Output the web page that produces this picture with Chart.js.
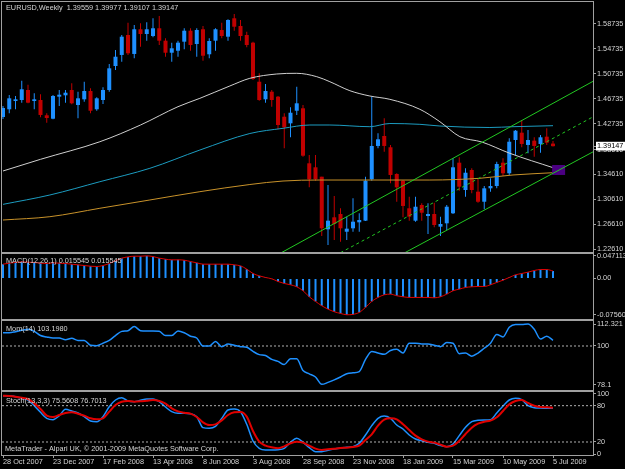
<!DOCTYPE html>
<html>
<head>
<meta charset="utf-8">
<title>EURUSD Weekly</title>
<script src="https://cdn.jsdelivr.net/npm/chart.js@4.4.1/dist/chart.umd.min.js"></script>
<style>
  html, body { margin: 0; padding: 0; background: #000; overflow: hidden; }
  #wrap { position: relative; width: 625px; height: 469px; }
  #wrap canvas { position: absolute; left: 0; top: 0; }
</style>
</head>
<body>
<div id="wrap">
  <canvas id="price" width="625" height="469"></canvas>
  <canvas id="macd" width="625" height="469"></canvas>
  <canvas id="mom" width="625" height="469"></canvas>
  <canvas id="stoch" width="625" height="469"></canvas>
</div>
<script>
// weekly bars, 28 Oct 2007 .. 5 Jul 2009 (89 bars)
const opens = [
  1.4382, 1.4506, 1.4639, 1.4655, 1.4815, 1.4639, 1.4655, 1.4410, 1.4355, 1.4708,
  1.4730, 1.4815, 1.4575, 1.4666, 1.4799, 1.4506, 1.4655, 1.4815, 1.5200, 1.5377,
  1.5697, 1.5393, 1.5789, 1.5713, 1.5681, 1.5805, 1.5606, 1.5413, 1.5445, 1.5590,
  1.5766, 1.5553, 1.5789, 1.5388, 1.5606, 1.5777, 1.5670, 1.5965, 1.5841, 1.5697,
  1.5574, 1.4948, 1.4666, 1.4788, 1.4708, 1.4387, 1.4281, 1.4483, 1.4522, 1.3640,
  1.3576, 1.3425, 1.2582, 1.2774, 1.2827, 1.2543, 1.2598, 1.2694, 1.2720, 1.3384,
  1.3918, 1.4078, 1.3897, 1.3469, 1.3361, 1.2919, 1.2720, 1.2972, 1.2795, 1.2827,
  1.2624, 1.2678, 1.2839, 1.3650, 1.3212, 1.3533, 1.3185, 1.3024, 1.3239, 1.3276,
  1.3650, 1.3480, 1.4014, 1.4131, 1.3934, 1.4003, 1.3950, 1.4067, 1.39559
];
const highs = [
  1.4559, 1.4735, 1.4719, 1.4964, 1.4900, 1.4762, 1.4746, 1.4442, 1.4735, 1.4815,
  1.4815, 1.4923, 1.4788, 1.4948, 1.4843, 1.4698, 1.4859, 1.5232, 1.5457, 1.5697,
  1.5894, 1.5857, 1.5885, 1.5901, 1.5965, 1.6002, 1.5644, 1.5574, 1.5606, 1.5805,
  1.5805, 1.5805, 1.5841, 1.5644, 1.5805, 1.5894, 1.5949, 1.6034, 1.5938, 1.5750,
  1.5590, 1.5083, 1.4912, 1.4815, 1.4719, 1.4442, 1.4538, 1.4868, 1.4575, 1.3773,
  1.3773, 1.3425, 1.3292, 1.3116, 1.2919, 1.2784, 1.3079, 1.2839, 1.3425, 1.4708,
  1.4121, 1.4362, 1.3934, 1.3480, 1.3372, 1.3105, 1.3105, 1.2999, 1.2999, 1.3009,
  1.2784, 1.2972, 1.3720, 1.3736, 1.3560, 1.3560, 1.3400, 1.3276, 1.3400, 1.3666,
  1.3720, 1.4041, 1.4174, 1.4334, 1.4174, 1.4057, 1.4094, 1.4201, 1.39977
];
const lows = [
  1.4350, 1.4442, 1.4506, 1.4612, 1.4602, 1.4506, 1.4378, 1.4291, 1.4346, 1.4559,
  1.4612, 1.4586, 1.4362, 1.4628, 1.4442, 1.4483, 1.4591, 1.4788, 1.5136, 1.5269,
  1.5377, 1.5324, 1.5510, 1.5606, 1.5660, 1.5537, 1.5349, 1.5269, 1.5349, 1.5468,
  1.5445, 1.5349, 1.5285, 1.5324, 1.5445, 1.5644, 1.5606, 1.5766, 1.5606, 1.5500,
  1.4976, 1.4644, 1.4612, 1.4548, 1.4185, 1.3881, 1.4057, 1.4415, 1.3746, 1.3255,
  1.3361, 1.2475, 1.2330, 1.2410, 1.2383, 1.2410, 1.2543, 1.2543, 1.2715, 1.3361,
  1.3881, 1.3826, 1.3320, 1.3024, 1.2774, 1.2720, 1.2704, 1.2720, 1.2507, 1.2614,
  1.2475, 1.2571, 1.2827, 1.3201, 1.3105, 1.3159, 1.3009, 1.2903, 1.3185, 1.3239,
  1.3437, 1.3453, 1.3773, 1.3897, 1.3800, 1.3746, 1.3810, 1.3934, 1.39107
];
const closes = [
  1.4527, 1.4682, 1.4666, 1.4827, 1.4612, 1.4666, 1.4415, 1.4366, 1.4719, 1.4740,
  1.4772, 1.4602, 1.4682, 1.4799, 1.4483, 1.4682, 1.4815, 1.5163, 1.5349, 1.5670,
  1.5404, 1.5789, 1.5713, 1.5789, 1.5805, 1.5606, 1.5413, 1.5484, 1.5574, 1.5766,
  1.5537, 1.5777, 1.5365, 1.5601, 1.5789, 1.5681, 1.5938, 1.5830, 1.5681, 1.5537,
  1.4992, 1.4655, 1.4799, 1.4655, 1.4254, 1.4217, 1.4451, 1.4602, 1.3762, 1.3384,
  1.3384, 1.2598, 1.2720, 1.2667, 1.2598, 1.2592, 1.2704, 1.2731, 1.3361, 1.3918,
  1.4025, 1.3918, 1.3453, 1.3255, 1.2956, 1.2784, 1.2944, 1.2848, 1.2827, 1.2651,
  1.2667, 1.2944, 1.3576, 1.3265, 1.3489, 1.3212, 1.3024, 1.3239, 1.3276, 1.3629,
  1.3480, 1.3986, 1.4163, 1.3950, 1.4014, 1.3918, 1.4057, 1.3970, 1.39147
];

// moving averages, read at sample bars
const maWhiteBars = [0, 6, 15.5, 22, 28, 31.5, 36.3, 39.5, 43.8, 47, 50.2, 52.3, 55.5, 58.7, 61.9, 66.7, 69.9, 73.1, 76.6, 81.1, 88];
const maWhite = [1.3517, 1.3704, 1.3986, 1.4254, 1.4548, 1.4682, 1.4880, 1.5003, 1.5072, 1.5083, 1.5029, 1.4948, 1.4804, 1.4719, 1.4666, 1.4506, 1.4307, 1.4067, 1.3982, 1.3800, 1.3570];
const maCyanBars = [0, 7.5, 15.5, 23.5, 31.5, 39.5, 44.8, 49.1, 52.3, 58.7, 61.9, 66.7, 69.9, 77.9, 81.6, 88];
const maCyan = [1.2982, 1.3132, 1.3345, 1.3560, 1.3853, 1.4118, 1.4201, 1.4254, 1.4254, 1.4227, 1.4278, 1.4265, 1.4238, 1.4214, 1.4227, 1.4243];
const maOrangeBars = [0, 7.5, 15.5, 23.5, 31.5, 39.5, 44.8, 50.7, 68.3, 76.3, 81.6, 88];
const maOrange = [1.2731, 1.2784, 1.2919, 1.3052, 1.3185, 1.3300, 1.3356, 1.3372, 1.3372, 1.3400, 1.3453, 1.3489];

// channel trendlines (two anchors each)
const chanUpperBars = [44.5, 94.5];
const chanUpper = [1.2205, 1.4960];
const chanMidBars = [54, 94.5];
const chanMid = [1.2207, 1.4390];
const chanLowerBars = [64.3, 94.5];
const chanLower = [1.2207, 1.3829];

// purple marker rectangle
const markerBar = [88.9];
const markerLow = [1.3453];
const markerHigh = [1.3613];

// MACD(12,26,1): signal period 1, so the signal line equals the main values
const macdMain = [
  0.0298, 0.0319, 0.0333, 0.0347, 0.0340, 0.0333, 0.0319, 0.0312, 0.0326, 0.0319,
  0.0312, 0.0298, 0.0284, 0.0270, 0.0256, 0.0249, 0.0270, 0.0312, 0.0367, 0.0423,
  0.0450, 0.0464, 0.0464, 0.0471, 0.0457, 0.0423, 0.0402, 0.0388, 0.0388, 0.0381,
  0.0353, 0.0326, 0.0298, 0.0298, 0.0298, 0.0298, 0.0298, 0.0284, 0.0263, 0.0194,
  0.0104, 0.0055, 0.0021, -0.0007, -0.0062, -0.0104, -0.0132, -0.0173, -0.0256, -0.0381,
  -0.0478, -0.0568, -0.0638, -0.0693, -0.0728, -0.0756, -0.0748, -0.0707, -0.0603, -0.0478,
  -0.0395, -0.0340, -0.0326, -0.0360, -0.0381, -0.0395, -0.0395, -0.0395, -0.0395, -0.0402,
  -0.0381, -0.0326, -0.0256, -0.0222, -0.0187, -0.0173, -0.0166, -0.0166, -0.0132, -0.0083,
  -0.0035, 0.0021, 0.0076, 0.0104, 0.0132, 0.0166, 0.0187, 0.0187, 0.015545
];

const momentum = [
  107.43, 107.43, 108.02, 108.80, 109.39, 108.22, 105.87, 105.09, 104.50, 104.50,
  103.52, 104.30, 103.13, 103.13, 100.39, 100.20, 101.56, 103.13, 105.87, 108.22,
  108.61, 110.95, 108.61, 108.41, 108.41, 108.22, 105.87, 105.87, 108.41, 107.43,
  105.48, 104.50, 100.00, 100.00, 102.54, 99.64, 101.17, 100.39, 99.64, 99.28,
  96.95, 95.15, 94.62, 92.46, 91.38, 89.59, 92.82, 92.82, 86.18, 84.38,
  82.59, 78.46, 79.54, 80.97, 82.59, 84.38, 84.92, 85.64, 92.46, 96.95,
  96.05, 95.33, 97.49, 98.21, 96.05, 101.56, 101.56, 101.17, 101.17, 100.39,
  99.64, 101.96, 101.56, 95.69, 96.05, 94.26, 96.05, 98.74, 101.56, 106.45,
  105.09, 110.56, 112.13, 112.13, 112.32, 109.39, 103.91, 105.48, 103.198
];
const momLevels = [100];

const stochMain = [
  96.5, 95.96, 94.86, 92.11, 89.36, 80.0, 69.0, 59.09, 56.89, 63.49,
  73.95, 71.19, 67.89, 61.84, 54.68, 53.58, 61.84, 78.35, 89.36, 93.21,
  87.70, 86.60, 88.81, 91.01, 91.01, 86.60, 77.80, 70.09, 67.34, 67.34,
  66.79, 61.84, 43.68, 42.58, 45.88, 59.09, 72.85, 74.50, 70.09, 49.18,
  21.66, 9.56, 6.80, 6.80, 7.35, 9.56, 19.46, 26.07, 19.46, 10.66,
  4.05, 4.05, 6.25, 8.45, 10.11, 11.21, 12.31, 17.81, 31.57, 46.98,
  59.09, 62.94, 59.09, 48.08, 41.47, 31.57, 24.96, 22.21, 19.46, 17.81,
  13.96, 12.31, 16.71, 30.47, 44.23, 53.58, 55.78, 56.33, 56.89, 67.89,
  79.45, 89.36, 92.11, 89.91, 80.0, 76.70, 76.15, 75.60, 75.5608
];
const stochSignal = [
  96.5, 95.96, 94.86, 93.21, 91.01, 83.85, 74.50, 63.49, 61.29, 64.59,
  67.89, 68.99, 66.79, 63.49, 59.09, 57.44, 59.09, 70.09, 81.10, 86.60,
  87.70, 86.60, 87.15, 88.26, 89.36, 87.70, 83.30, 75.60, 70.64, 68.44,
  66.79, 61.29, 52.48, 48.08, 49.18, 55.78, 64.59, 68.99, 69.54, 61.84,
  38.17, 20.56, 13.96, 11.21, 9.56, 12.86, 17.81, 20.56, 18.91, 13.96,
  9.00, 6.80, 7.90, 9.00, 10.11, 10.66, 11.76, 13.96, 23.31, 32.67,
  46.98, 56.89, 59.09, 57.44, 49.18, 39.82, 30.47, 24.41, 20.56, 18.91,
  15.61, 12.31, 13.96, 21.66, 33.22, 43.68, 50.28, 53.58, 55.23, 60.74,
  71.19, 82.20, 87.70, 89.36, 84.40, 80.0, 77.80, 77.25, 76.7013
];
const stochLevels = [80, 20];

// axis ticks
const dateTickBars = [0, 8, 16, 24, 32, 40, 48, 56, 64, 72, 80, 88];
const dateTickLabels = ['28 Oct 2007', '23 Dec 2007', '17 Feb 2008', '13 Apr 2008', '8 Jun 2008', '3 Aug 2008',
  '28 Sep 2008', '23 Nov 2008', '18 Jan 2009', '15 Mar 2009', '10 May 2009', '5 Jul 2009'];
const priceTicks = [1.58735, 1.54735, 1.50735, 1.46735, 1.42735, 1.38610, 1.34610, 1.30610, 1.26610, 1.22610, 1.39147];
const priceTickLabels = ['1.58735', '1.54735', '1.50735', '1.46735', '1.42735', '1.38610', '1.34610', '1.30610', '1.26610', '1.22610', '1.39147'];
const macdTicks = [0.047113, 0, -0.0756];
const macdTickLabels = ['0.047113', '0.00', '-0.07560'];
const momTicks = [112.321, 100, 78.1];
const momTickLabels = ['112.321', '100', '78.1'];
const stochTicks = [100, 80, 20, 0];
const stochTickLabels = ['100', '80', '20', '0'];

const X_MIN = -0.16;
const X_MAX = 94.4;

const FONT = "'Liberation Sans', Arial, sans-serif";
const FONT_SIZE = 7.3;
const TEXT = '#d4d4d4';
const FRAME = '#a0a0a0';
const BULL = '#1e90ff';
const BEAR = '#c00000';
const RED = '#e00000';

Chart.defaults.font.family = FONT;
Chart.defaults.font.size = FONT_SIZE;
Chart.defaults.color = TEXT;
Chart.defaults.animation = false;
Chart.defaults.events = [];
Chart.defaults.plugins.legend.display = false;
Chart.defaults.plugins.tooltip.enabled = false;

const lastClose = closes[closes.length - 1];
const barIdx = closes.map((c, i) => i);
const candleColors = closes.map((c, i) => (c >= opens[i] ? BULL : BEAR));

function pts(xs, ys) {
  return xs.map((x, i) => ({ x: x, y: ys[i] }));
}

function levelLine(v) {
  return {
    type: 'line',
    data: [{ x: X_MIN, y: v }, { x: X_MAX, y: v }],
    borderColor: '#b0b0b0',
    borderWidth: 1,
    borderDash: [2, 2],
    pointRadius: 0,
  };
}

function lineSet(data, color, width, order) {
  return {
    type: 'line',
    data: data,
    borderColor: color,
    borderWidth: width,
    pointRadius: 0,
    cubicInterpolationMode: 'monotone',
    order: order,
  };
}

// frame round the plot area and the caption text, like the terminal draws it
const panelDecor = {
  id: 'panelDecor',
  afterDraw(chart, args, opts) {
    const { ctx, chartArea } = chart;
    ctx.save();
    ctx.strokeStyle = FRAME;
    ctx.lineWidth = 1;
    ctx.strokeRect(chartArea.left - 0.5, chartArea.top - 0.5, chartArea.width + 1, chartArea.height + 1);
    ctx.fillStyle = TEXT;
    ctx.font = FONT_SIZE + 'px ' + FONT;
    ctx.textBaseline = 'middle';
    if (opts.caption) {
      ctx.fillText(opts.caption, chartArea.left + 4, chartArea.top + opts.captionY);
    }
    if (opts.footer) {
      ctx.fillText(opts.footer, chartArea.left + 3, chartArea.bottom - 6);
    }
    ctx.restore();
  },
};
Chart.register(panelDecor);

function xAxis(show) {
  const axis = {
    type: 'linear',
    display: show,
    min: X_MIN,
    max: X_MAX,
    offset: false,
    grid: { offset: false, drawOnChartArea: false, drawTicks: true, tickLength: 3, color: FRAME },
    border: { display: false },
    ticks: {
      autoSkip: false,
      maxRotation: 0,
      minRotation: 0,
      align: 'start',
      padding: 0,
      color: TEXT,
      callback: (v, i) => dateTickLabels[i],
    },
    afterBuildTicks: (scale) => {
      scale.ticks = dateTickBars.map((v) => ({ value: v }));
    },
  };
  if (show) {
    axis.afterFit = (scale) => {
      scale.height = 14;
      scale.paddingLeft = 0;
      scale.paddingRight = 0;
    };
  }
  return axis;
}

function yAxis(min, max, ticks, labels) {
  return {
    type: 'linear',
    position: 'right',
    min: min,
    max: max,
    beginAtZero: false,
    grid: { drawOnChartArea: false, drawTicks: true, tickLength: 3, color: FRAME },
    border: { display: false },
    ticks: {
      autoSkip: false,
      padding: 1,
      color: TEXT,
      callback: (v, i) => labels[i],
    },
    afterBuildTicks: (scale) => {
      scale.ticks = ticks.map((v) => ({ value: v }));
    },
    afterFit: (scale) => {
      scale.width = 32;
      scale.paddingTop = 0;
      scale.paddingBottom = 0;
    },
  };
}

function baseOptions(top, bottom, caption, captionY, footer) {
  return {
    responsive: false,
    devicePixelRatio: 1,
    layout: { padding: { top: top, bottom: bottom, left: 2, right: 0 } },
    plugins: { panelDecor: { caption: caption, captionY: captionY, footer: footer } },
  };
}

// price window
const priceY = yAxis(1.22180, 1.62262, priceTicks, priceTickLabels);
priceY.ticks.color = (ctx) => (ctx.tick && ctx.tick.value === lastClose ? '#000000' : TEXT);
priceY.ticks.showLabelBackdrop = (ctx) => !!(ctx.tick && ctx.tick.value === lastClose);
priceY.ticks.backdropColor = '#ffffff';
priceY.ticks.backdropPadding = { top: 0, bottom: 0, left: 1, right: 10 };

new Chart(document.getElementById('price'), {
  type: 'bar',
  data: {
    datasets: [
      lineSet(pts(chanUpperBars, chanUpper), '#22c822', 1, 0),
      Object.assign(lineSet(pts(chanMidBars, chanMid), '#22c822', 1, 0), { borderDash: [3, 3] }),
      lineSet(pts(chanLowerBars, chanLower), '#22c822', 1, 0),
      {
        type: 'bar',
        data: markerBar.map((x, i) => ({ x: x, y: [markerLow[i], markerHigh[i]] })),
        backgroundColor: '#4b0082',
        barThickness: 13,
        grouped: false,
        inflateAmount: 0,
        order: 1,
      },
      lineSet(pts(maWhiteBars, maWhite), '#cfcfcf', 1, 2),
      lineSet(pts(maCyanBars, maCyan), '#1c9cc0', 1, 2),
      lineSet(pts(maOrangeBars, maOrange), '#c8922a', 1, 2),
      {
        type: 'bar',
        data: barIdx.map((i) => ({ x: i, y: [opens[i], closes[i]] })),
        backgroundColor: candleColors,
        barThickness: 4,
        minBarLength: 1,
        grouped: false,
        inflateAmount: 0,
        order: 3,
      },
      {
        type: 'bar',
        data: barIdx.map((i) => ({ x: i, y: [lows[i], highs[i]] })),
        backgroundColor: candleColors,
        barThickness: 1,
        grouped: false,
        inflateAmount: 0,
        order: 4,
      },
    ],
  },
  options: Object.assign(baseOptions(2, 217, 'EURUSD,Weekly  1.39559 1.39977 1.39107 1.39147', 5.5), {
    scales: { x: xAxis(false), y: priceY },
  }),
});

// MACD window
new Chart(document.getElementById('macd'), {
  type: 'bar',
  data: {
    datasets: [
      lineSet(pts(barIdx, macdMain), RED, 1, 0),
      {
        type: 'bar',
        data: pts(barIdx, macdMain),
        backgroundColor: BULL,
        barThickness: 2,
        grouped: false,
        inflateAmount: 0,
        order: 1,
      },
    ],
  },
  options: Object.assign(baseOptions(254, 150, 'MACD(12,26,1) 0.015545 0.015545', 6.5), {
    scales: { x: xAxis(false), y: yAxis(-0.0844, 0.0510, macdTicks, macdTickLabels) },
  }),
});

// Momentum window
new Chart(document.getElementById('mom'), {
  type: 'line',
  data: {
    datasets: [
      lineSet(pts(barIdx, momentum), BULL, 1.5, 0),
      ...momLevels.map(levelLine),
    ],
  },
  options: Object.assign(baseOptions(321, 79, 'Mom(14) 103.1980', 8), {
    scales: { x: xAxis(false), y: yAxis(75.28, 114.04, momTicks, momTickLabels) },
  }),
});

// Stochastic window, with the date axis
new Chart(document.getElementById('stoch'), {
  type: 'line',
  data: {
    datasets: [
      lineSet(pts(barIdx, stochSignal), RED, 2, 0),
      lineSet(pts(barIdx, stochMain), BULL, 1.5, 1),
      ...stochLevels.map(levelLine),
    ],
  },
  options: Object.assign(baseOptions(392, 0, 'Stoch(13,3,3) 75.5608 76.7013', 8.5,
    'MetaTrader - Alpari UK, \u00a9 2001-2009 MetaQuotes Software Corp.'), {
    scales: { x: xAxis(true), y: yAxis(-1.5, 102.6, stochTicks, stochTickLabels) },
  }),
});
</script>
</body>
</html>
